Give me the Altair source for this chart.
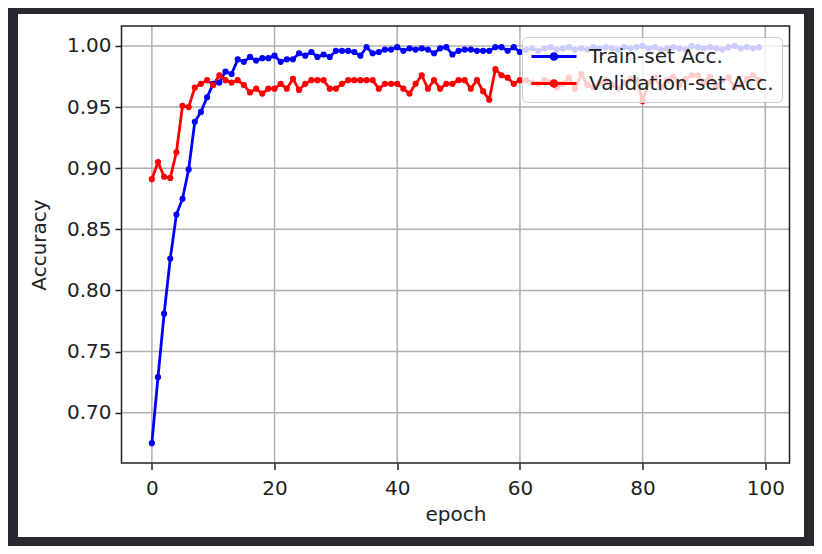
import altair as alt
import pandas as pd

epochs = list(range(100))

train_acc = [
    0.675, 0.729, 0.781, 0.826, 0.862, 0.875, 0.899, 0.938, 0.946, 0.958,
    0.969, 0.970, 0.979, 0.977, 0.989, 0.987, 0.991, 0.988, 0.990, 0.990,
    0.992, 0.987, 0.989, 0.989, 0.994, 0.992, 0.995, 0.991, 0.993, 0.991,
    0.996, 0.996, 0.996, 0.995, 0.992, 0.999, 0.994, 0.995, 0.997, 0.997,
    0.999, 0.996, 0.998, 0.997, 0.998, 0.997, 0.994, 0.998, 0.999, 0.993,
    0.996, 0.997, 0.997, 0.996, 0.996, 0.996, 0.999, 0.999, 0.996, 0.999,
    0.995, 0.997, 0.998, 0.996, 0.998, 0.999, 0.997, 0.998, 0.999, 0.997,
    0.998, 0.997, 0.999, 0.998, 0.999, 0.998, 0.997, 0.999, 0.998, 0.999,
    1.000, 0.998, 0.999, 0.997, 0.998, 0.999, 0.998, 0.997, 1.000, 0.999,
    0.998, 0.999, 0.998, 0.997, 0.999, 1.000, 0.998, 0.999, 0.998, 0.999,
]

val_acc = [
    0.891, 0.905, 0.893, 0.892, 0.913, 0.951, 0.950, 0.966, 0.969, 0.972,
    0.968, 0.976, 0.972, 0.970, 0.972, 0.968, 0.962, 0.965, 0.961, 0.965,
    0.965, 0.969, 0.965, 0.973, 0.964, 0.969, 0.972, 0.972, 0.972, 0.965,
    0.965, 0.969, 0.972, 0.972, 0.972, 0.972, 0.972, 0.965, 0.969, 0.969,
    0.969, 0.965, 0.961, 0.969, 0.976, 0.965, 0.972, 0.965, 0.969, 0.969,
    0.972, 0.972, 0.965, 0.972, 0.963, 0.956, 0.981, 0.976, 0.974, 0.969,
    0.972, 0.972, 0.970, 0.969, 0.972, 0.970, 0.966, 0.969, 0.974, 0.965,
    0.977, 0.968, 0.966, 0.970, 0.972, 0.968, 0.965, 0.970, 0.973, 0.972,
    0.955, 0.970, 0.974, 0.966, 0.972, 0.975, 0.968, 0.973, 0.976, 0.976,
    0.970, 0.975, 0.966, 0.972, 0.974, 0.966, 0.968, 0.973, 0.976, 0.972,
]

series_names = ["Train-set Acc.", "Validation-set Acc."]
series_colors = ["#0000ff", "#ff0000"]
x_ticks = [0, 20, 40, 60, 80, 100]
y_ticks = [0.70, 0.75, 0.80, 0.85, 0.90, 0.95, 1.00]

df = pd.DataFrame({
    "epoch": epochs + epochs,
    "acc": train_acc + val_acc,
    "series": [series_names[0]] * len(epochs) + [series_names[1]] * len(epochs),
})

W, H = 668, 437
FONT = "DejaVu Sans"
FS = 20
INK = "#222222"

x_scale = alt.Scale(domain=[-4.95, 103.95], nice=False, zero=False)
y_scale = alt.Scale(domain=[0.6588, 1.0163], nice=False, zero=False)

x_axis = alt.Axis(values=x_ticks, format="d", grid=False, domain=False,
                  tickSize=6.5, tickWidth=1.5, tickColor=INK,
                  labelPadding=9, titlePadding=6, zindex=1)
y_axis = alt.Axis(values=y_ticks, format=".2f", grid=False, domain=False,
                  tickSize=6.5, tickWidth=1.5, tickColor=INK,
                  labelPadding=4, titlePadding=17, zindex=1)

one = pd.DataFrame({"a": [0]})

panel = alt.Chart(one).mark_rect(fill="white", strokeWidth=0).encode(
    x=alt.value(-103.5), x2=alt.value(W + 14.5),
    y=alt.value(-12), y2=alt.value(H + 74),
)

vgrid = alt.Chart(pd.DataFrame({"epoch": x_ticks})).mark_rule(
    color="#b0b0b0", strokeWidth=1.5
).encode(x=alt.X("epoch:Q", scale=x_scale, axis=x_axis, title="epoch"))

hgrid = alt.Chart(pd.DataFrame({"acc": y_ticks})).mark_rule(
    color="#b0b0b0", strokeWidth=1.5
).encode(y=alt.Y("acc:Q", scale=y_scale, axis=y_axis, title="Accuracy"))

legend = alt.Legend(
    title=None,
    orient="none",
    legendX=400.5,
    legendY=11,
    fillColor="rgba(255,255,255,0.8)",
    strokeColor="#cccccc",
    cornerRadius=5,
    padding=8,
    symbolType="M-1,0L3.5,0M0.96,0A0.29,0.29,0,1,1,1.54,0A0.29,0.29,0,1,1,0.96,0",
    symbolSize=400,
    symbolStrokeWidth=2.8,
    labelFontSize=FS,
    labelFont=FONT,
    labelColor=INK,
    labelOffset=36,
    labelLimit=400,
    rowPadding=5,
)

color_scale = alt.Scale(domain=series_names, range=series_colors)

x_enc = alt.X("epoch:Q", scale=x_scale, axis=x_axis, title="epoch")
y_enc = alt.Y("acc:Q", scale=y_scale, axis=y_axis, title="Accuracy")

lines = alt.Chart(df).mark_line(strokeWidth=2.8).encode(
    x=x_enc, y=y_enc,
    color=alt.Color("series:N", scale=color_scale, legend=legend),
)

points = alt.Chart(df).mark_circle(size=38, opacity=1).encode(
    x=x_enc, y=y_enc,
    color=alt.Color("series:N", scale=color_scale, legend=legend),
)

frame = alt.Chart(one).mark_rect(
    fill="white", fillOpacity=0, stroke=INK, strokeWidth=1.5
).encode(
    x=alt.value(0), x2=alt.value(W), y=alt.value(0), y2=alt.value(H)
)

chart = alt.layer(panel, vgrid, hgrid, lines, points, frame).properties(
    width=W,
    height=H,
    background="#27292d",
    padding={"left": 113.5, "top": 18, "right": 24.5, "bottom": 83},
    autosize=alt.AutoSizeParams(type="none"),
).configure_view(
    stroke=None
).configure_axis(
    labelFont=FONT, titleFont=FONT, labelFontSize=FS, titleFontSize=FS,
    labelColor=INK, titleColor=INK, titleFontWeight="normal",
)

chart.save("out.html", embed_options={"renderer": "svg", "actions": False})
